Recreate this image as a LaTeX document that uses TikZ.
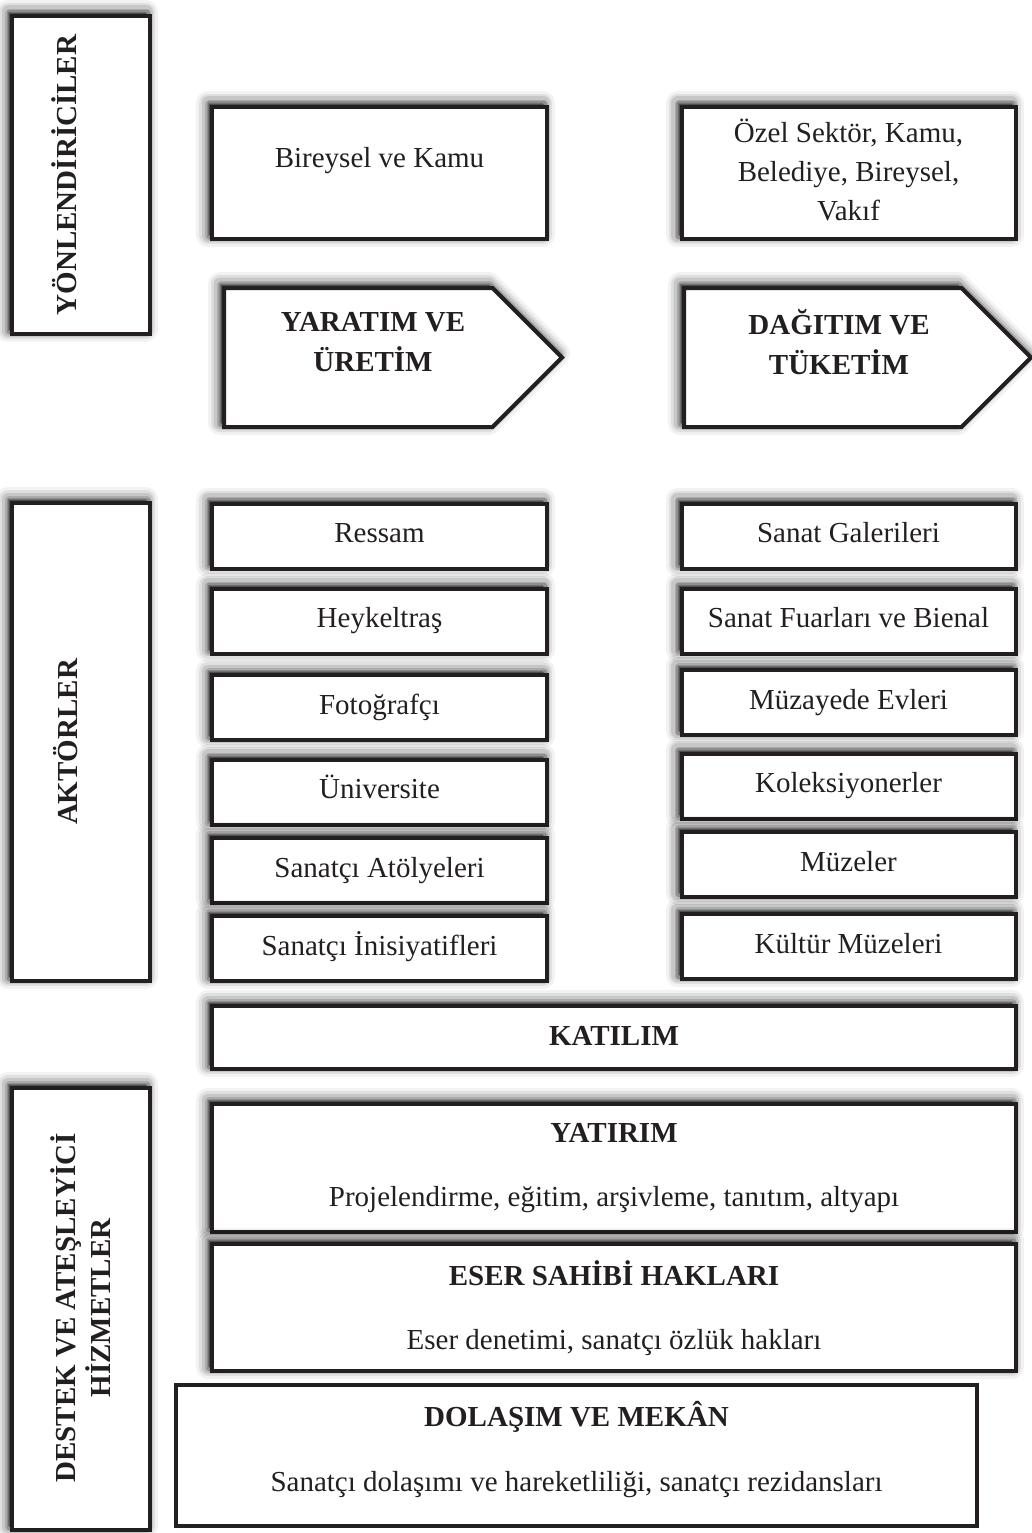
\documentclass[tikz,border=0pt]{standalone}
\usepackage{fontspec}
\setmainfont{Liberation Serif}
\usetikzlibrary{shapes.symbols,shadows}
\definecolor{ink}{RGB}{35,31,32}
\tikzset{
  halo/.style={
    general shadow={draw=black, fill=black, line join=round, line width=24pt, opacity=.05, shadow xshift=-4pt, shadow yshift=4pt},
    general shadow={draw=black, fill=black, line join=round, line width=18pt, opacity=.08, shadow xshift=-4pt, shadow yshift=4pt},
    general shadow={draw=black, fill=black, line join=round, line width=13pt, opacity=.11, shadow xshift=-4pt, shadow yshift=4pt},
    general shadow={draw=black, fill=black, line join=round, line width=8pt, opacity=.14, shadow xshift=-3pt, shadow yshift=3pt},
    general shadow={draw=black, fill=black, line join=round, line width=5pt, opacity=.17, shadow xshift=-3pt, shadow yshift=3pt}},
  cardflat/.style={draw=ink, line width=4pt, fill=white, inner sep=0pt, align=center, text=ink,
    font=\fontsize{29}{34}\selectfont, execute at begin node=\strut, execute at end node=\strut},
  card/.style={cardflat, halo},
  lcard/.style={card, minimum width=335pt, minimum height=65pt},
  rcard/.style={card, minimum width=334pt, minimum height=65pt},
  widecard/.style={card, minimum width=804pt, font=\fontsize{29}{39}\selectfont},
  sidecard/.style={card, minimum width=138pt},
  arrowcard/.style={card, shape=signal, signal to=east, minimum height=139pt, anchor=west},
  txt/.style={inner sep=0pt, align=center, text=ink, font=\fontsize{29}{34}\selectfont,
    execute at begin node=\strut, execute at end node=\strut},
  head/.style={txt, font=\fontsize{29}{40}\selectfont\bfseries},
  vlabel/.style={head, rotate=90, font=\fontsize{29}{35}\selectfont\bfseries}
}

\begin{document}
\begin{tikzpicture}[x=1pt,y=-1pt]
    \path[use as bounding box] (0,0) rectangle (1032,1533);

    % Side boxes
    \node[sidecard, minimum height=318pt] (yon) at (81,175) {};
    \node[sidecard, minimum height=478pt] (akt) at (81,742) {};
    \node[sidecard, minimum height=442pt] (des) at (81,1309) {};
    \node[vlabel] (yon-t) at (69,175) {YÖNLENDİRİCİLER};
    \node[vlabel] (akt-t) at (70,742) {AKTÖRLER};
    \node[vlabel] (des-t) at (85.5,1308) {DESTEK VE ATEŞLEYİCİ\\HİZMETLER};

    % Top boxes
    \node[card, minimum width=335pt, minimum height=132pt] (bir) at (379.5,173) {};
    \node[txt] (bir-t) at (379.5,161) {Bireysel ve Kamu};
    \node[card, minimum width=334pt, minimum height=132pt] (ozel) at (848.5,173) {};
    \node[txt, font=\fontsize{29}{39}\selectfont] (ozel-t) at (848.5,176)
        {Özel Sektör, Kamu,\\Belediye, Bireysel,\\Vakıf};

    % Arrows
    \node[arrowcard, minimum width=338pt] (yar) at (222,357.5) {};
    \node[arrowcard, minimum width=347pt] (dag) at (682,357.5) {};
    \node[head] (yar-t) at (373,348) {YARATIM VE\\ÜRETİM};
    \node[head] (dag-t) at (839,348) {DAĞITIM VE\\TÜKETİM};

    % Actors, left
    \node[lcard] (ressam) at (379.5,536) {Ressam};
    \node[lcard] (heykel) at (379.5,621) {Heykeltraş};
    \node[lcard] (foto) at (379.5,707.5) {Fotoğrafçı};
    \node[lcard] (univ) at (379.5,792) {Üniversite};
    \node[lcard] (atolye) at (379.5,870.5) {Sanatçı Atölyeleri};
    \node[lcard] (inisiy) at (379.5,948.5) {Sanatçı İnisiyatifleri};

    % Actors, right
    \node[rcard] (galeri) at (848.5,536) {Sanat Galerileri};
    \node[rcard] (fuar) at (848.5,621) {Sanat Fuarları ve Bienal};
    \node[rcard] (muzayede) at (848.5,702.5) {Müzayede Evleri};
    \node[rcard] (koleks) at (848.5,786) {Koleksiyonerler};
    \node[rcard] (muze) at (848.5,864.5) {Müzeler};
    \node[rcard] (kultur) at (848.5,946.5) {Kültür Müzeleri};

    % Bottom boxes
    \node[widecard, minimum height=63pt] (katilim) at (614,1037.5) {\textbf{KATILIM}};
    \node[widecard, minimum height=128pt] (yatirim) at (614,1168) {};
    \node[txt, font=\fontsize{29}{39}\selectfont] (yatirim-t) at (614,1171)
        {\textbf{YATIRIM}\\[25pt]Projelendirme, eğitim, arşivleme, tanıtım, altyapı};
    \node[widecard, minimum height=127pt] (eser) at (614,1307.5) {};
    \node[txt, font=\fontsize{29}{39}\selectfont] (eser-t) at (614,1310.5)
        {\textbf{ESER SAHİBİ HAKLARI}\\[25pt]Eser denetimi, sanatçı özlük hakları};
    \node[cardflat, minimum width=801pt, minimum height=141pt] (dol) at (576.5,1455.5) {};
    \node[txt, font=\fontsize{29}{39}\selectfont] (dol-t) at (576.5,1452.5)
        {\textbf{DOLAŞIM VE MEKÂN}\\[26pt]Sanatçı dolaşımı ve hareketliliği, sanatçı rezidansları};
\end{tikzpicture}
\end{document}
